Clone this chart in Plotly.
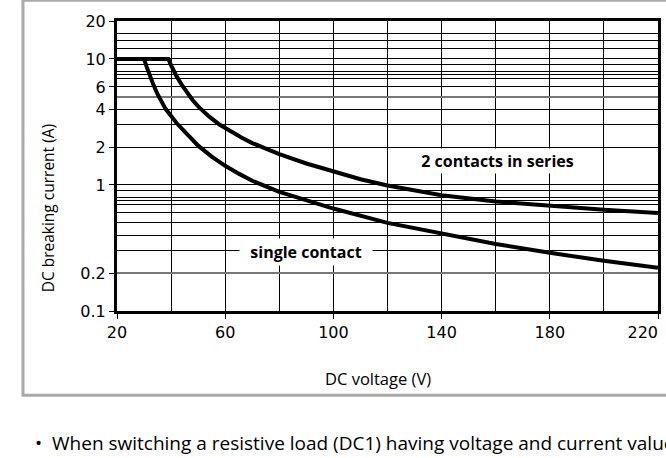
import plotly.graph_objects as go
import math

# Data
single_v = [20, 30, 31, 32, 33.5, 35, 38, 42, 46, 50, 55, 60, 65, 70, 80, 90, 100, 120, 140, 160, 180, 200, 220]
single_i = [10, 10, 8.6, 7.5, 6.2, 5.25, 4.0, 3.1, 2.5, 2.05, 1.68, 1.42, 1.23, 1.08, 0.88, 0.75, 0.65, 0.50, 0.41, 0.34, 0.29, 0.25, 0.22]

series_v = [20, 39, 40, 41, 42, 44, 46, 48, 50, 54, 58, 62, 66, 70, 80, 90, 100, 110, 120, 140, 160, 180, 200, 220]
series_i = [10, 10, 8.9, 8.0, 7.3, 6.2, 5.35, 4.7, 4.2, 3.5, 3.0, 2.65, 2.38, 2.15, 1.76, 1.48, 1.27, 1.11, 0.99, 0.83, 0.74, 0.68, 0.635, 0.60]

x_ticks = [20, 60, 100, 140, 180, 220]
x_ticktext = ["20", "60", "100", "140", "180", "220" + "\u00a0" * 6]
y_ticks = [0.1, 0.2, 1, 2, 4, 6, 10, 20]
y_ticktext = ["0.1", "0.2", "1", "2", "4", "6", "10", "20"]
y_minor = [0.3, 0.4, 0.5, 0.6, 0.7, 0.75, 0.8, 0.9, 3, 5, 7, 7.5, 8, 9, 12, 14, 16]
y_grey = [0.2, 5]

fig = go.Figure()
fig.add_trace(go.Scatter(x=single_v, y=single_i, mode="lines",
                         line=dict(color="black", width=4),
                         showlegend=False, hoverinfo="skip"))
fig.add_trace(go.Scatter(x=series_v, y=series_i, mode="lines",
                         line=dict(color="black", width=4),
                         showlegend=False, hoverinfo="skip"))
# invisible trace on overlay axis to activate grey gridlines
fig.add_trace(go.Scatter(x=[20], y=[1], yaxis="y2", mode="markers",
                         marker=dict(opacity=0), showlegend=False, hoverinfo="skip"))

tick_font = dict(family="DejaVu Sans", size=16, color="black")
text_font = "Open Sans, Noto Sans, sans-serif"

fig.update_layout(
    width=666, height=458,
    margin=dict(l=117, r=8, t=21, b=147, autoexpand=False),
    paper_bgcolor="white", plot_bgcolor="white",
    xaxis=dict(range=[20, 220], tickvals=x_ticks, ticktext=x_ticktext, ticks="outside", ticklen=5,
               tickcolor="black", tickwidth=1, tickfont=tick_font, ticklabeloverflow="allow",
               automargin=False, showgrid=False, zeroline=False,
               showline=True, linecolor="black", linewidth=3, mirror=True,
               minor=dict(dtick=20, tick0=20, showgrid=True, gridcolor="black", gridwidth=1, ticks="")),
    yaxis=dict(type="log", range=[-1, math.log10(20)], tickvals=y_ticks, ticktext=y_ticktext,
               ticks="outside", ticklen=5, tickcolor="black", tickwidth=1, tickfont=tick_font,
               automargin=False, showgrid=True, gridcolor="black", gridwidth=1, zeroline=False,
               showline=True, linecolor="black", linewidth=3, mirror=True,
               minor=dict(tickmode="array", tickvals=y_minor, showgrid=True,
                          gridcolor="black", gridwidth=1, ticks="")),
    yaxis2=dict(type="log", range=[-1, math.log10(20)], overlaying="y", tickvals=y_grey,
                showticklabels=False, showgrid=True, gridcolor="#777777", gridwidth=2,
                automargin=False, ticks="", showline=False, zeroline=False),
)

nb = "\u00a0\u00a0"
annotations = [
    dict(text=nb + "2 contacts in series" + nb, x=160.8, y=math.log10(1.554), xref="x", yref="y",
         xanchor="center", yanchor="middle",
         showarrow=False, font=dict(family=text_font, size=16, color="black", weight="bold"),
         bgcolor="white", borderpad=1),
    dict(text=nb + "single contact" + nb, x=89.9, y=math.log10(0.2946), xref="x", yref="y",
         xanchor="center", yanchor="middle",
         showarrow=False, font=dict(family=text_font, size=16, color="black", weight="bold"),
         bgcolor="white", borderpad=2),
    dict(text="DC breaking current (A)", x=-0.1275, y=0.354, xref="paper", yref="paper",
         xanchor="center", yanchor="middle",
         textangle=-90, showarrow=False, font=dict(family=text_font, size=15.5, color="black")),
    dict(text="DC voltage (V)", x=0.4824, y=-0.232, xref="paper", yref="paper",
         xanchor="center", yanchor="middle",
         showarrow=False, font=dict(family=text_font, size=16.5, color="black")),
    dict(text="•  When switching a resistive load (DC1) having voltage and current values",
         x=-0.155, y=-0.455, xref="paper", yref="paper", xanchor="left", yanchor="middle",
         showarrow=False, font=dict(family=text_font, size=19, color="black")),
    dict(text="in the case of DC13 loads, the connection of a diode in parallel with the load",
         x=-0.131, y=-0.545, xref="paper", yref="paper", xanchor="left", yanchor="middle",
         showarrow=False, font=dict(family=text_font, size=19, color="black")),
]
fig.update_layout(annotations=annotations)

fig.add_shape(type="rect", xref="paper", yref="paper",
              x0=-0.1738, x1=1.05, y0=-0.2907, y1=1.0714,
              line=dict(color="#a9a9a9", width=3), fillcolor="rgba(0,0,0,0)", layer="below")

fig.write_html("out.html", config={"displayModeBar": False},
               post_script="document.body.style.margin='0';")
